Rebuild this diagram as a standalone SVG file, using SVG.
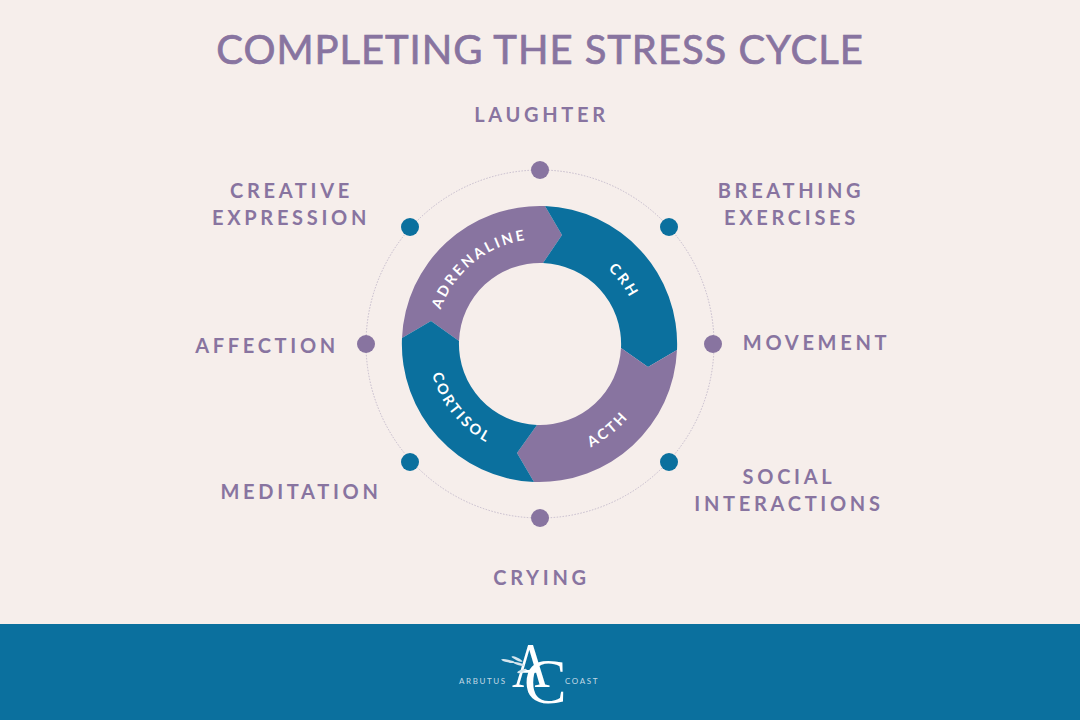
<svg xmlns="http://www.w3.org/2000/svg" width="1080" height="720" viewBox="0 0 1080 720">
<style>
.bg{fill:#f6eeeb}.teal{fill:#0b709e}.purple{fill:#8874a0}
.title{font:400 40px Lato,"Liberation Sans",sans-serif;fill:#8874a0;stroke:#8874a0;stroke-width:.7px;text-anchor:middle;letter-spacing:.95px}
.lbl{font:700 20px Lato,"Liberation Sans",sans-serif;fill:#8874a0;text-anchor:middle;letter-spacing:3.7px}
.arc{font:700 14.5px Lato,"Liberation Sans",sans-serif;fill:#fff;text-anchor:middle;letter-spacing:2.6px}
.logo{font:400 8px Lato,"Liberation Sans",sans-serif;fill:#c3d9e5;letter-spacing:1.6px}
.mono{font:400 64px "Liberation Serif",serif;fill:#fff}
</style>
<defs>
<path id="pA" d="M441.3 379.9A105 105 0 0 1 592.5 253.1"/>
<path id="pC" d="M527.7 243.8A101 101 0 0 1 633 383.5"/>
<path id="pT" d="M495.1 449.9A115 115 0 0 0 654.1 330"/>
<path id="pO" d="M444 286.3A112 112 0 0 0 576.5 449.9"/>
</defs>
<rect class="bg" width="1080" height="720"/>
<rect class="teal" y="624" width="1080" height="96"/>
<text class="title" x="540" y="64">COMPLETING THE STRESS CYCLE</text>
<g id="connectors"><circle cx="540" cy="344" r="174" fill="none" stroke="#b9aec4" stroke-width=".8" stroke-dasharray="1.5 1.5"/></g>
<g id="cycle">
<g id="adrenaline"><path class="purple" d="M402 338A138 138 0 0 1 545 206L562 235L543 263A81 81 0 0 0 459 341L431 321Z"/><text class="arc" transform="rotate(1 540 344)"><textPath href="#pA" startOffset="50%">ADRENALINE</textPath></text></g>
<g id="crh"><path class="teal" d="M545 206A138 138 0 0 1 677 350L648 367L621 348A81 81 0 0 0 543 263L562 235Z"/><text class="arc"><textPath href="#pC" startOffset="50%">CRH</textPath></text></g>
<g id="acth"><path class="purple" d="M677 350A138 138 0 0 1 534 482L517 453L537 425A81 81 0 0 0 621 348L648 367Z"/><text class="arc" transform="rotate(-1.5 540 344)"><textPath href="#pT" startOffset="50%">ACTH</textPath></text></g>
<g id="cortisol"><path class="teal" d="M534 482A138 138 0 0 1 402 338L431 321L459 341A81 81 0 0 0 537 425L517 453Z"/><text class="arc"><textPath href="#pO" startOffset="50%">CORTISOL</textPath></text></g>
</g>
<g id="laughter"><circle class="purple" cx="540" cy="170" r="9"/><text class="lbl" x="541.5" y="121.5">LAUGHTER</text></g>
<g id="breathing"><circle class="teal" cx="669" cy="227" r="9"/><text class="lbl" x="791" y="197.5">BREATHING</text><text class="lbl" x="791.5" y="224.5">EXERCISES</text></g>
<g id="movement"><circle class="purple" cx="713" cy="344" r="9"/><text class="lbl" x="816.5" y="349.5">MOVEMENT</text></g>
<g id="social"><circle class="teal" cx="669" cy="462" r="9"/><text class="lbl" x="789" y="483.5">SOCIAL</text><text class="lbl" x="789" y="510.5">INTERACTIONS</text></g>
<g id="crying"><circle class="purple" cx="540" cy="518" r="9"/><text class="lbl" x="541.5" y="584.5">CRYING</text></g>
<g id="meditation"><circle class="teal" cx="410" cy="462" r="9"/><text class="lbl" x="301" y="498.5">MEDITATION</text></g>
<g id="affection"><circle class="purple" cx="366" cy="344" r="9"/><text class="lbl" x="267" y="352.5">AFFECTION</text></g>
<g id="creative"><circle class="teal" cx="410" cy="227" r="9"/><text class="lbl" x="291.5" y="197.5">CREATIVE</text><text class="lbl" x="291" y="224.5">EXPRESSION</text></g>
<g id="logo">
<text class="logo" x="459" y="684">ARBUTUS</text>
<text class="logo" x="565" y="684">COAST</text>
<text class="mono" transform="translate(512 687) scale(.82 1)">A</text>
<text class="mono" x="524" y="703">C</text>
<g fill="#d5e5ee"><ellipse cx="508" cy="661" rx="7" ry="1.4" transform="rotate(12 508 661)"/><ellipse cx="517" cy="659" rx="6" ry="1.3" transform="rotate(25 517 659)"/><ellipse cx="519" cy="664" rx="6" ry="1.3" transform="rotate(15 519 664)"/><ellipse cx="522" cy="671" rx="5" ry="1.2" transform="rotate(-20 522 671)"/></g>
</g>
</svg>
